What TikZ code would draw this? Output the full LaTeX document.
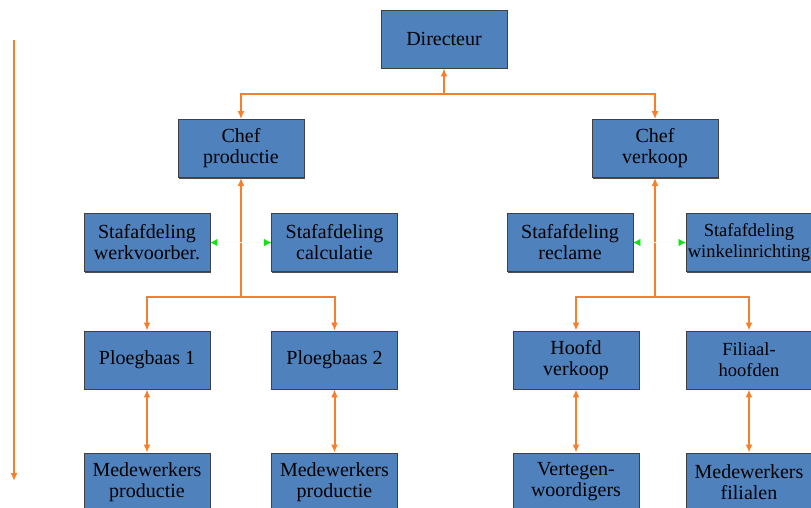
\documentclass[tikz,border=0pt]{standalone}
\usepackage{fontspec}
\setmainfont{Liberation Serif}
\usetikzlibrary{arrows.meta,shadows}
\definecolor{boxblue}{RGB}{79,129,189}
\definecolor{lineorange}{RGB}{247,127,42}
\definecolor{tipgreen}{RGB}{20,225,20}
\tikzset{
  unit/.style={draw=black!75, line width=0.8pt, fill=boxblue,
    minimum width=126pt, minimum height=58pt, inner sep=0pt, align=center,
    font=\fontsize{20}{21}\selectfont,
    drop shadow={shadow xshift=0.7pt, shadow yshift=-1.3pt, fill=black!70, opacity=1}},
  smallunit/.style={unit, font=\fontsize{18.5}{21}\selectfont},
  line/.style={draw=lineorange, line width=2pt, arrows={-Latex[length=8pt,width=7pt]}},
  twoway/.style={line, arrows={Latex[length=8pt,width=7pt]-Latex[length=8pt,width=7pt]}},
  staff/.style={draw=tipgreen!4, line width=0.1pt, arrows={-Latex[length=7pt,width=7pt,fill=tipgreen,color=tipgreen]}}
}
\begin{document}
\begin{tikzpicture}[x=1pt,y=-1pt]
	\useasboundingbox (0,0) rectangle (811,508);
	\clip (0,0) rectangle (811,508);
	% Units
	\node [unit] (dir) at (444,39) {Directeur};
	\node [unit] (cp) at (241,148.5) {Chef\\productie};
	\node [unit] (cv) at (655,148.5) {Chef\\verkoop};
	\node [unit] (wv) at (147,242.5) {Stafafdeling\\werkvoorber.};
	\node [unit] (calc) at (334.5,242.5) {Stafafdeling\\calculatie};
	\node [unit] (recl) at (570,242.5) {Stafafdeling\\reclame};
	\node [smallunit] (wink) at (749,242.5) {Stafafdeling\\winkelinrichting};
	\node [unit] (pb1) at (147,360) {Ploegbaas 1};
	\node [unit] (pb2) at (334.5,360) {Ploegbaas 2};
	\node [unit] (hv) at (576,360) {Hoofd\\verkoop};
	\node [smallunit] (fh) at (749,360) {Filiaal-\\hoofden};
	\node [unit] (mp1) at (147,482) {Medewerkers\\productie};
	\node [unit] (mp2) at (334.5,482) {Medewerkers\\productie};
	\node [unit] (vw) at (576,482) {Vertegen-\\woordigers};
	\node [unit] (mf) at (749,482) {Medewerkers\\filialen};
	% Junctions
	\coordinate (j0) at (444,94);
	\coordinate (j1) at (241,297);
	\coordinate (j2) at (655,297);
	\coordinate (s1) at (241,242.5);
	\coordinate (s2) at (655,242.5);
	\coordinate (top) at (14,40);
	\coordinate (bot) at (14,481);
	% Lines
	\draw [line] (j0) -- (dir.south);
	\draw [line] (j0) -| (cp.north);
	\draw [line] (j0) -| (cv.north);
	\draw [line] (j1) -- (cp.south);
	\draw [line] (j1) -| (pb1.north);
	\draw [line] (j1) -| (pb2.north);
	\draw [line] (j2) -- (cv.south);
	\draw [line] (j2) -| (hv.north);
	\draw [line] (j2) -| (fh.north);
	\draw [twoway] (pb1) -- (mp1);
	\draw [twoway] (pb2) -- (mp2);
	\draw [twoway] (hv) -- (vw);
	\draw [twoway] (fh) -- (mf);
	\draw [staff] (s1) -- (wv.east);
	\draw [staff] (s1) -- (calc.west);
	\draw [staff] (s2) -- (recl.east);
	\draw [staff] (s2) -- (wink.west);
	\draw [line, line width=1.6pt] (top) -- (bot);
\end{tikzpicture}
\end{document}
